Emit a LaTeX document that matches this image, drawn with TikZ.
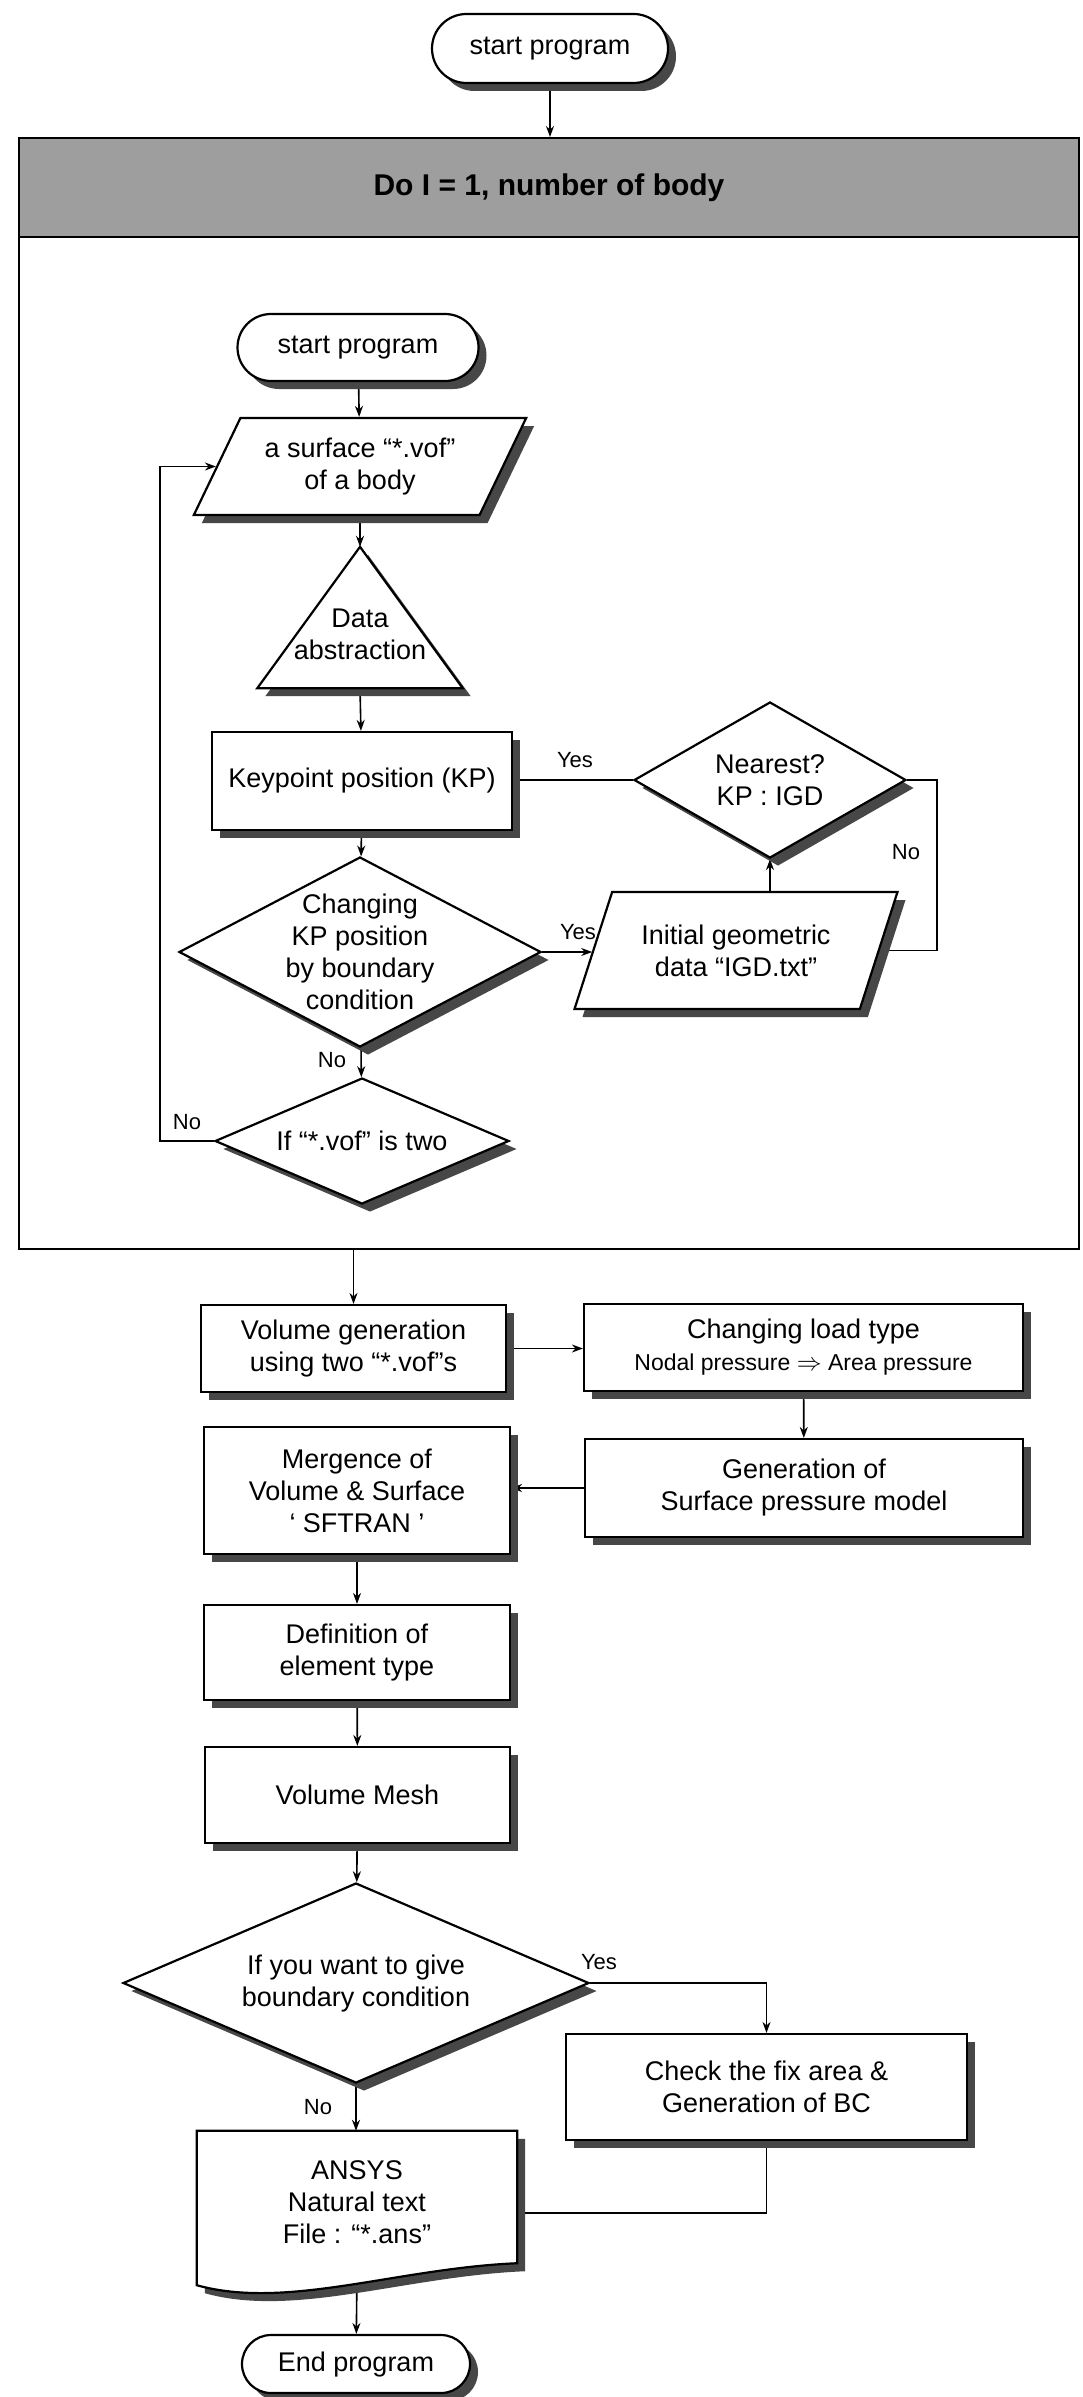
\documentclass[tikz,border=0pt]{standalone}
\usepackage{fontspec}
\setmainfont{Liberation Sans}
\usetikzlibrary{shapes.geometric,shapes.misc,shadows,arrows.meta,calc}
\pgfdeclarelayer{bottom}
\pgfdeclarelayer{background}
\pgfdeclarelayer{mid}
\pgfsetlayers{bottom,background,mid,main}
\begin{document}
\begin{tikzpicture}[x=1pt,y=-1pt,
  shd/.style={drop shadow={shadow xshift=8pt,shadow yshift=-8pt,fill=black!72,opacity=1}},
  txt/.style={font=\fontsize{27}{32}\selectfont,align=center},
  shapeline/.style={draw,line width=2.2pt},
  base/.style={shapeline,fill=white,txt,inner sep=0pt,shd},
  proc/.style={base,rectangle},
  term/.style={base,rounded rectangle},
  dec/.style={base,diamond},
  io/.style={base,trapezium,trapezium stretches=true},
  conn/.style={line width=1.6pt,-{Stealth[length=11pt,width=8pt]}},
  plain/.style={line width=1.6pt},
  lbl/.style={font=\fontsize{22}{26}\selectfont}]
\useasboundingbox (0,0) rectangle (1083,2397);

% loop container
\begin{pgfonlayer}{bottom}
\node[draw,line width=2pt,fill=white,minimum width=1060,minimum height=1111,inner sep=0pt] (loop) at (549,693.5) {};
\node[draw,line width=2pt,fill=black!38,minimum width=1060,minimum height=99,inner sep=0pt,
      font=\fontsize{30}{34}\selectfont\bfseries] (hdr) at (549,187.5) {Do I = 1, number of body};
\end{pgfonlayer}

% nodes
\node[term,minimum width=236,minimum height=69] (start) at (550,48.5) {start program};
\node[term,minimum width=241,minimum height=67] (s2) at (358,347.5) {start program};
\node[io,trapezium left angle=57,trapezium right angle=123,minimum width=333,minimum height=97] (surf) at (360,466.5) {a surface “*.vof”\\of a body};
\node[minimum width=205,minimum height=141,inner sep=0pt] (tri) at (360,617.5) {};
\node[txt] (tritxt) at ($(tri.center)+(0,17)$) {Data\\abstraction};
\node[proc,minimum width=300,minimum height=98] (kp) at (362,781) {Keypoint position (KP)};
\node[dec,minimum width=272,minimum height=156,label={[txt]center:{Nearest?\\KP : IGD}}] (nearest) at (770,780) {};
\node[dec,minimum width=362,minimum height=190,label={[txt]center:{Changing\\KP position\\by boundary\\condition}}] (chg) at (360,952) {};
\node[io,trapezium left angle=61,trapezium right angle=119,minimum width=324,minimum height=117] (igd) at (736,950.5) {Initial geometric\\data “IGD.txt”};
\node[dec,minimum width=294,minimum height=126,label={[txt]center:{If “*.vof” is two}}] (ifv) at (362,1141) {};

\node[proc,minimum width=305,minimum height=87] (vg) at (353.5,1348.5) {Volume generation\\using two “*.vof”s};
\node[proc,minimum width=439,minimum height=87] (cl) at (803.5,1347.5) {Changing load type\\{\fontsize{23}{26}\selectfont Nodal pressure $\Rightarrow$ Area pressure}};
\node[proc,minimum width=438,minimum height=98] (gen) at (804,1488) {Generation of\\Surface pressure model};
\node[proc,minimum width=306,minimum height=127] (mer) at (357,1490.5) {Mergence of\\Volume \& Surface\\‘ SFTRAN ’};
\node[proc,minimum width=306,minimum height=95] (def) at (357,1652.5) {Definition of\\element type};
\node[proc,minimum width=305,minimum height=96] (vm) at (357.5,1795) {Volume Mesh};
\node[dec,minimum width=466,minimum height=200,label={[txt]center:{If you want to give\\boundary condition}}] (bc) at (356,1983) {};
\node[proc,minimum width=401,minimum height=106] (chk) at (766.5,2087) {Check the fix area \&\\Generation of BC};
\node[txt,minimum width=320,minimum height=142,inner sep=0pt] (ans) at (357,2202) {ANSYS\\Natural text\\File : “*.ans”};
\node[term,minimum width=228,minimum height=58] (end) at (356,2364) {End program};

% custom outlines
\begin{pgfonlayer}{mid}
\draw[shapeline,fill=white,shd] (tri.north) -- (tri.south east) -- (tri.south west) -- cycle;
\draw[shapeline,fill=white,shd] (ans.north west) -- (ans.north east) -- ($(ans.south east)+(0,-10)$)
   .. controls +(-120,5) and +(90,25) .. ($(ans.south west)+(0,12)$) -- cycle;
\end{pgfonlayer}

% connectors
\begin{pgfonlayer}{background}
\draw[conn] (start) -- (start |- loop.north);
\draw[conn] (s2) -- (surf);
\draw[conn] (surf) -- (tri.north);
\draw[conn] (tri.south) -- (kp);
\draw[conn] (kp) -- (chg);
\draw[plain] (nearest.west) -- (nearest.west -| kp.east);
\draw[conn] (chg.east) -- (chg.east -| igd.west);
\draw[conn] (igd.north -| nearest.south) -- (nearest.south);
\draw[plain] (nearest.east) -- ++(30,0) |- (igd.east);
\draw[conn] (chg) -- (ifv);
\draw[conn] (ifv.west) -- ++(-54,0) |- (surf.west);
\draw[conn] (vg.north |- loop.south) -- (vg.north);
\draw[conn] (vg.east) -- (vg.east -| cl.west);
\draw[conn] (cl) -- (gen);
\draw[conn] (gen.west) -- (gen.west -| mer.east);
\draw[conn] (mer) -- (def);
\draw[conn] (def) -- (vm);
\draw[conn] (vm) -- (bc);
\draw[conn] (bc.east) -| (chk.north);
\draw[conn] (bc.south) -- (bc.south |- ans.north);
\draw[plain] (chk.south) |- ($(ans.east)+(0,11)$);
\draw[conn] (ans.south) -- (end);
\end{pgfonlayer}

% labels
\node[lbl] (l1) at (575,760) {Yes};
\node[lbl] (l2) at (578,932) {Yes};
\node[lbl] (l3) at (906,852) {No};
\node[lbl] (l4) at (332,1060) {No};
\node[lbl] (l5) at (187,1122) {No};
\node[lbl] (l6) at (599,1962) {Yes};
\node[lbl] (l7) at (318,2107) {No};
\end{tikzpicture}
\end{document}
